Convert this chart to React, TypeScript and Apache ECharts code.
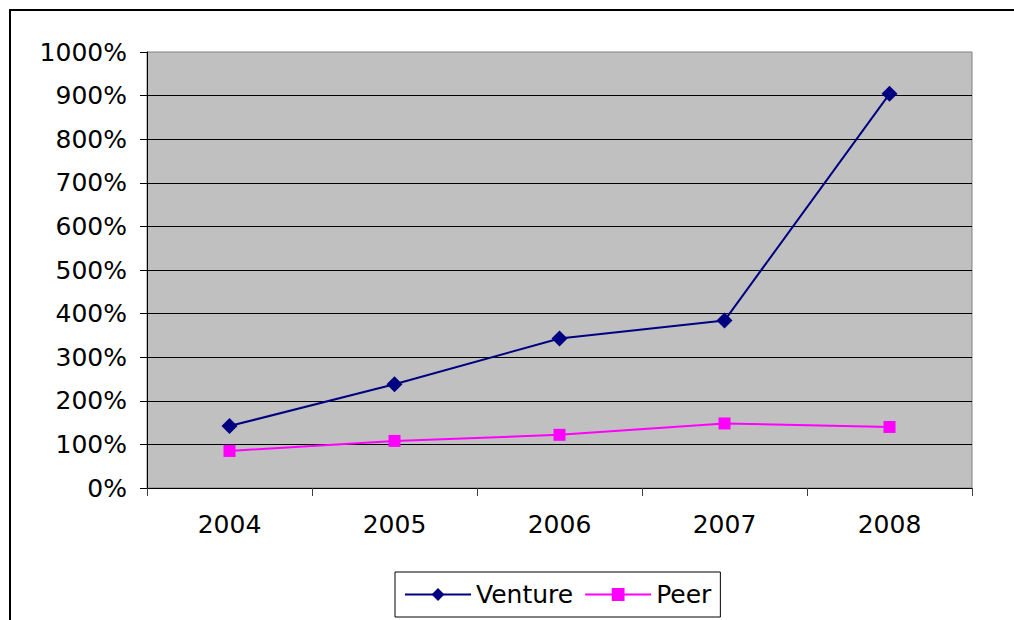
import React, { useEffect, useRef } from "react";
import * as echarts from "echarts";

const years = ["2004", "2005", "2006", "2007", "2008"];
const venture = [142, 238, 343, 384, 904];
const peer = [85, 108, 122, 148, 140];
const seriesNames = ["Venture", "Peer"];

const FONT = "DejaVu Sans";

export default function App() {
  const ref = useRef<HTMLDivElement>(null);
  useEffect(() => {
    document.body.style.margin = "0";
    const chart = echarts.init(ref.current!, null, { renderer: "svg" });
    chart.setOption({
      animation: false,
      backgroundColor: "#ffffff",
      textStyle: { fontFamily: FONT },
      graphic: [
        {
          type: "rect",
          shape: { x: 10, y: 10, width: 1100, height: 700 },
          style: { fill: "none", stroke: "#000", lineWidth: 2 },
          silent: true,
          z: -1,
        },
      ],
      grid: {
        left: 147,
        right: 42,
        top: 52,
        bottom: 132,
        show: true,
        backgroundColor: "#C0C0C0",
        borderColor: "#808080",
        borderWidth: 1,
      },
      legend: {
        data: seriesNames,
        left: 395,
        top: 572,
        padding: [10, 9, 10, 9],
        itemGap: 11,
        itemWidth: 66,
        itemHeight: 16,
        borderColor: "#000",
        borderWidth: 1,
        backgroundColor: "#fff",
        textStyle: { fontFamily: FONT, fontSize: 25, color: "#000" },
      },
      xAxis: {
        type: "category",
        data: years,
        boundaryGap: true,
        axisLine: { lineStyle: { color: "#000", width: 1 } },
        axisTick: { show: true, length: 8, lineStyle: { color: "#404040" } },
        axisLabel: { fontFamily: FONT, fontSize: 25, color: "#000", margin: 24 },
        splitLine: { show: false },
      },
      yAxis: {
        type: "value",
        min: 0,
        max: 1000,
        interval: 100,
        axisLine: { show: true, lineStyle: { color: "#000", width: 1 } },
        axisTick: { show: true, length: 7, lineStyle: { color: "#000" } },
        axisLabel: {
          fontFamily: FONT,
          fontSize: 25,
          color: "#000",
          margin: 20,
          formatter: (v: number) => `${v}%`,
        },
        splitLine: {
          show: true,
          showMinLine: false,
          showMaxLine: false,
          lineStyle: { color: "#000", width: 1 },
        },
      },
      series: [
        {
          name: seriesNames[0],
          type: "line",
          data: venture,
          symbol: "diamond",
          symbolSize: 16,
          itemStyle: { color: "#000080" },
          lineStyle: { color: "#000080", width: 2 },
        },
        {
          name: seriesNames[1],
          type: "line",
          data: peer,
          symbol: "rect",
          symbolSize: 12,
          itemStyle: { color: "#FF00FF" },
          lineStyle: { color: "#FF00FF", width: 2 },
        },
      ],
    });
    return () => chart.dispose();
  }, []);
  return (
    <div
      ref={ref}
      style={{ position: "fixed", left: 0, top: 0, width: 1014, height: 620 }}
    />
  );
}
